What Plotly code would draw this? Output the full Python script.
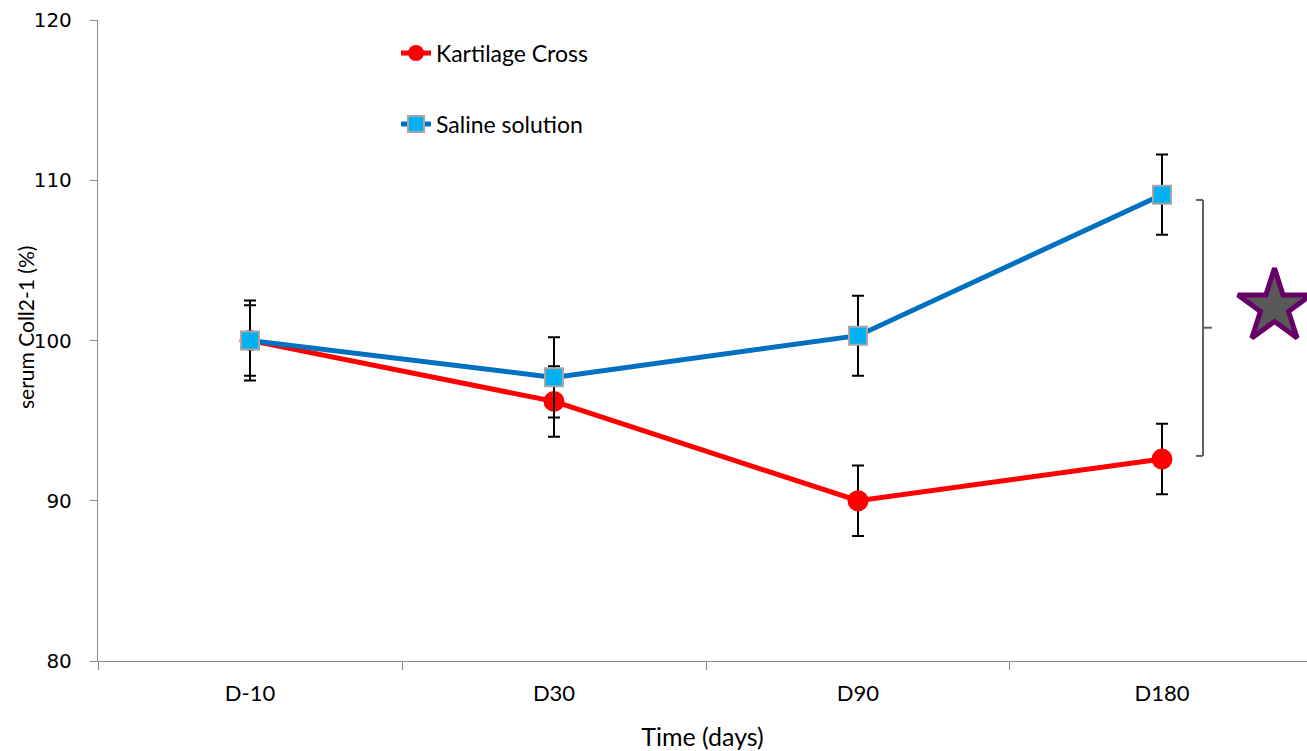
import plotly.graph_objects as go

categories = ["D-10", "D30", "D90", "D180"]
kartilage = [100.0, 96.2, 90.0, 92.6]
kartilage_err = [2.2, 2.2, 2.2, 2.2]
saline = [100.0, 97.7, 100.3, 109.1]
saline_err = [2.5, 2.5, 2.5, 2.5]
y_ticks = [80, 90, 100, 110, 120]

AXIS_COL = "#8a8a8a"
BR_COL = "#5f5f5f"
XRANGE = [-0.5, 3.477]

fig = go.Figure()
fig.add_trace(go.Scatter(
    x=categories, y=kartilage, name="Kartilage Cross", mode="lines+markers",
    line=dict(color="#FF0000", width=5),
    marker=dict(symbol="circle", size=21, color="#FF0000"),
    error_y=dict(type="data", array=kartilage_err, color="black", thickness=2, width=6),
    legendgroup="a",
))
fig.add_trace(go.Scatter(
    x=categories, y=saline, name="Saline solution", mode="lines+markers",
    line=dict(color="#0070C0", width=5),
    marker=dict(symbol="square", size=18, color="#00B0F0", line=dict(color="#A6A6A6", width=2)),
    error_y=dict(type="data", array=saline_err, color="black", thickness=2, width=6),
    legendgroup="b",
))
# significance star (on an overlaid linear axis)
fig.add_trace(go.Scatter(
    x=[3.37], y=[102.1], mode="markers", showlegend=False, hoverinfo="skip",
    xaxis="x2",
    marker=dict(symbol="star", size=55, color="#595959", line=dict(color="#660066", width=5)),
    cliponaxis=False,
))

# bracket
bx, bl, br = 3.135, 3.112, 3.164
ytop, ybot, ymid = 108.77, 92.8, 100.8
for (x0, y0, x1, y1) in [(bx, ytop, bx, ybot), (bl, ytop, bx, ytop), (bl, ybot, bx, ybot), (bx, ymid, br, ymid)]:
    fig.add_shape(type="line", xref="x2", yref="y", x0=x0, y0=y0, x1=x1, y1=y1,
                  line=dict(color=BR_COL, width=2))

fig.update_layout(
    width=1307, height=751,
    margin=dict(l=98, r=0, t=20, b=90),
    plot_bgcolor="white", paper_bgcolor="white",
    showlegend=True,
    legend=dict(x=0.2465, y=0.982, xanchor="left", yanchor="top",
                font=dict(family="Lato", size=23, color="black"),
                tracegroupgap=38, bgcolor="rgba(0,0,0,0)"),
    font=dict(family="Lato", color="black"),
    xaxis2=dict(overlaying="x", range=XRANGE, visible=False, type="linear"),
    annotations=[dict(
        text="serum Coll2-1 (%)", textangle=-90, showarrow=False,
        xref="paper", yref="paper", x=-0.0604, y=0.521, xanchor="center", yanchor="middle",
        font=dict(family="Lato", size=21, color="black"),
    )],
)
fig.update_layout(xaxis=dict(
    type="category", range=XRANGE, showline=True, linecolor=AXIS_COL, linewidth=1.3,
    ticks="outside", tickson="boundaries", ticklen=8, tickcolor=AXIS_COL,
    tickfont=dict(family="Lato", size=22), ticklabelstandoff=12,
    showgrid=False, zeroline=False, automargin=False,
    title=dict(text="Time (days)", font=dict(family="Lato", size=25), standoff=24),
))
fig.update_yaxes(
    range=[80, 120], tickvals=y_ticks, showline=True, linecolor=AXIS_COL, linewidth=1.3,
    ticks="outside", ticklen=7, tickcolor=AXIS_COL,
    tickfont=dict(family="DejaVu Sans", size=20), ticklabelstandoff=14,
    showgrid=False, zeroline=False, automargin=False,
)

fig.write_html("out.html", config={"displayModeBar": False},
               post_script="document.body.style.margin='0';")
